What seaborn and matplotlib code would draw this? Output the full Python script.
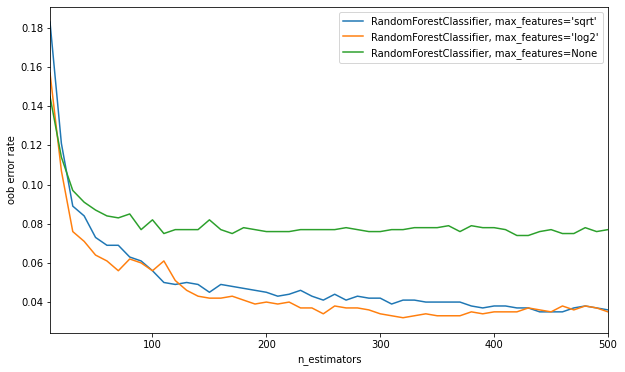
import numpy as np
import pandas as pd
import matplotlib
matplotlib.use("Agg")
import matplotlib.pyplot as plt
import seaborn as sns

n_estimators = list(range(10, 501, 10))

err_sqrt = [0.183, 0.121, 0.089, 0.084, 0.073, 0.069, 0.069, 0.063, 0.061, 0.056,
            0.050, 0.049, 0.050, 0.049, 0.045, 0.049, 0.048, 0.047, 0.046, 0.045,
            0.043, 0.044, 0.046, 0.043, 0.041, 0.044, 0.041, 0.043, 0.042, 0.042,
            0.039, 0.041, 0.041, 0.040, 0.040, 0.040, 0.040, 0.038, 0.037, 0.038,
            0.038, 0.037, 0.037, 0.035, 0.035, 0.035, 0.037, 0.038, 0.037, 0.036]

err_log2 = [0.157, 0.107, 0.076, 0.071, 0.064, 0.061, 0.056, 0.062, 0.060, 0.056,
            0.061, 0.051, 0.046, 0.043, 0.042, 0.042, 0.043, 0.041, 0.039, 0.040,
            0.039, 0.040, 0.037, 0.037, 0.034, 0.038, 0.037, 0.037, 0.036, 0.034,
            0.033, 0.032, 0.033, 0.034, 0.033, 0.033, 0.033, 0.035, 0.034, 0.035,
            0.035, 0.035, 0.037, 0.036, 0.035, 0.038, 0.036, 0.038, 0.037, 0.035]

err_none = [0.145, 0.114, 0.097, 0.091, 0.087, 0.084, 0.083, 0.085, 0.077, 0.082,
            0.075, 0.077, 0.077, 0.077, 0.082, 0.077, 0.075, 0.078, 0.077, 0.076,
            0.076, 0.076, 0.077, 0.077, 0.077, 0.077, 0.078, 0.077, 0.076, 0.076,
            0.077, 0.077, 0.078, 0.078, 0.078, 0.079, 0.076, 0.079, 0.078, 0.078,
            0.077, 0.074, 0.074, 0.076, 0.077, 0.075, 0.075, 0.078, 0.076, 0.077]

labels = ["RandomForestClassifier, max_features='sqrt'",
          "RandomForestClassifier, max_features='log2'",
          "RandomForestClassifier, max_features=None"]

frames = []
for lab, vals in zip(labels, [err_sqrt, err_log2, err_none]):
    frames.append(pd.DataFrame({"n_estimators": n_estimators,
                                "oob error rate": vals,
                                "model": lab}))
df = pd.concat(frames, ignore_index=True)

DPI = 72
fig = plt.figure(figsize=(625 / DPI, 372 / DPI), dpi=DPI)
ax = fig.add_axes([50 / 625, 39 / 372, 558 / 625, 326 / 372])

sns.lineplot(data=df, x="n_estimators", y="oob error rate", hue="model",
             hue_order=labels, palette=sns.color_palette("tab10", 3),
             ax=ax, linewidth=1.5)

ax.set_xlim(10, 500)
ax.set_ylim(0.0242, 0.1907)
ax.set_yticks([0.04, 0.06, 0.08, 0.10, 0.12, 0.14, 0.16, 0.18])
ax.set_xticks([100, 200, 300, 400, 500])
ax.set_xlabel("n_estimators")
ax.set_ylabel("oob error rate")

handles, labs = ax.get_legend_handles_labels()
ax.legend(handles, labs, loc="upper right")

fig.savefig("out.png", dpi=DPI)
